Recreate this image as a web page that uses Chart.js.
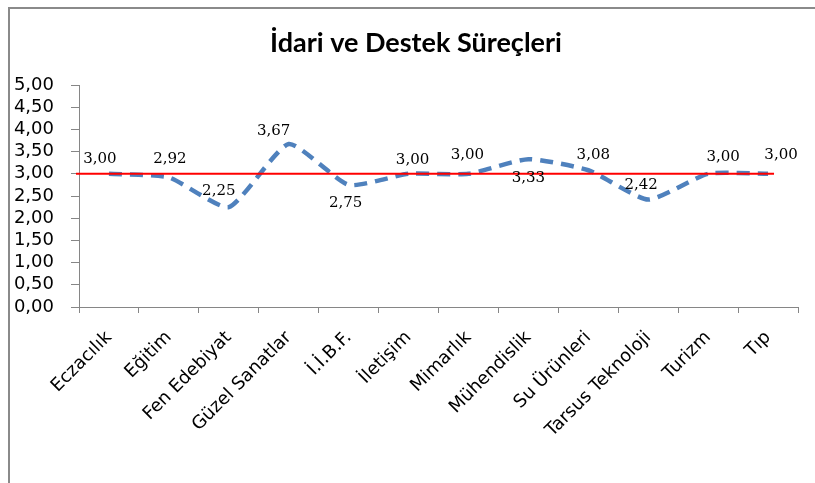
<!DOCTYPE html>
<html>
<head>
<meta charset="utf-8">
<script src="https://cdn.jsdelivr.net/npm/chart.js@4.4.0/dist/chart.umd.min.js"></script>
<style>
  html, body { margin: 0; padding: 0; background: #fff; overflow: hidden; }
  #frame {
    position: absolute; left: 8px; top: 7px; width: 840px; height: 520px;
    border: 2px solid #8a8a8a; box-sizing: border-box;
  }
  #wrap { position: absolute; left: 0; top: 0; width: 815px; height: 483px; }
</style>
</head>
<body>
<div id="frame"></div>
<div id="wrap"><canvas id="chart"></canvas></div>
<script>
// --- data ---
const chartTitle = 'İdari ve Destek Süreçleri';
const categories = ['Eczacılık', 'Eğitim', 'Fen Edebiyat', 'Güzel Sanatlar', 'İ.İ.B.F.', 'İletişim',
  'Mimarlık', 'Mühendislik', 'Su Ürünleri', 'Tarsus Teknoloji', 'Turizm', 'Tıp'];
const scores = [3.00, 2.92, 2.25, 3.67, 2.75, 3.00, 3.00, 3.33, 3.08, 2.42, 3.00, 3.00];
const referenceValue = 3.00;
const yTicks = [0, 0.5, 1, 1.5, 2, 2.5, 3, 3.5, 4, 4.5, 5];

const fmt = v => v.toFixed(2).replace('.', ',');

// title, centred on the frame rather than the canvas
const titlePlugin = {
  id: 'frameTitle',
  afterDraw(chart) {
    const { ctx } = chart;
    ctx.save();
    ctx.font = 'bold 27px Lato';
    ctx.fillStyle = '#000';
    ctx.textAlign = 'center';
    ctx.textBaseline = 'middle';
    ctx.fillText(chartTitle, 416, 43);
    ctx.restore();
  }
};

// red reference line at 3,00 drawn across the plot
const refLinePlugin = {
  id: 'refLine',
  afterDatasetsDraw(chart) {
    const { ctx, chartArea, scales } = chart;
    const y = scales.y.getPixelForValue(referenceValue);
    const xEnd = scales.x.getPixelForValue(categories.length - 1) + 6;
    ctx.save();
    ctx.strokeStyle = '#ff0000';
    ctx.lineWidth = 2;
    ctx.beginPath();
    ctx.moveTo(chartArea.left - 3, y);
    ctx.lineTo(xEnd, y);
    ctx.stroke();
    ctx.restore();
  }
};

// value labels next to the points (Excel-like placement)
const valueLabelPlugin = {
  id: 'valueLabels',
  afterDraw(chart, args, opts) {
    const { ctx } = chart;
    const meta = chart.getDatasetMeta(0);
    ctx.save();
    ctx.font = '15px "DejaVu Serif"';
    ctx.fillStyle = '#000';
    ctx.textAlign = 'center';
    ctx.textBaseline = 'middle';
    meta.data.forEach((pt, i) => {
      const off = opts.offsets[i] || [0, -16];
      ctx.fillText(fmt(scores[i]), pt.x + off[0], pt.y + off[1]);
    });
    ctx.restore();
  }
};

const ctx = document.getElementById('chart').getContext('2d');
new Chart(ctx, {
  type: 'line',
  data: {
    labels: categories,
    datasets: [{
      data: scores,
      borderColor: '#4f81bd',
      borderWidth: 4.5,
      borderDash: [13, 8],
      borderCapStyle: 'butt',
      tension: 0.18,
      pointRadius: 0,
      fill: false
    }]
  },
  options: {
    responsive: true,
    maintainAspectRatio: false,
    animation: false,
    layout: { padding: { left: 0, right: 17, top: 85, bottom: 0 } },
    plugins: {
      legend: { display: false },
      tooltip: { enabled: false },
      title: { display: false },
      valueLabels: {
        offsets: [[-9, -15], [1, -18], [-10, -16], [-15, -13], [-3, 18], [4, -14],
          [-1, -19], [0, 19], [5, -15], [-7, -14], [15, -17], [13, -19]]
      }
    },
    scales: {
      x: {
        offset: true,
        grid: {
          display: true, drawOnChartArea: false, drawTicks: true,
          tickLength: 6, color: '#868686', offset: true
        },
        border: { display: true, color: '#868686', width: 1 },
        ticks: {
          color: '#000',
          minRotation: 45, maxRotation: 45,
          autoSkip: false,
          padding: 14,
          font: { family: 'DejaVu Sans', size: 18 }
        },
        afterFit(scale) { scale.height = 176; }
      },
      y: {
        min: 0, max: 5,
        afterBuildTicks(scale) { scale.ticks = yTicks.map(v => ({ value: v })); },
        grid: {
          display: true, drawOnChartArea: false, drawTicks: true,
          tickLength: 8, color: '#868686'
        },
        border: { display: true, color: '#868686', width: 1 },
        ticks: {
          color: '#000',
          autoSkip: false,
          padding: 17,
          font: { family: 'DejaVu Sans', size: 18 },
          callback: v => fmt(v)
        },
        afterFit(scale) { scale.width = 79; }
      }
    }
  },
  plugins: [refLinePlugin, valueLabelPlugin, titlePlugin]
});
</script>
</body>
</html>
